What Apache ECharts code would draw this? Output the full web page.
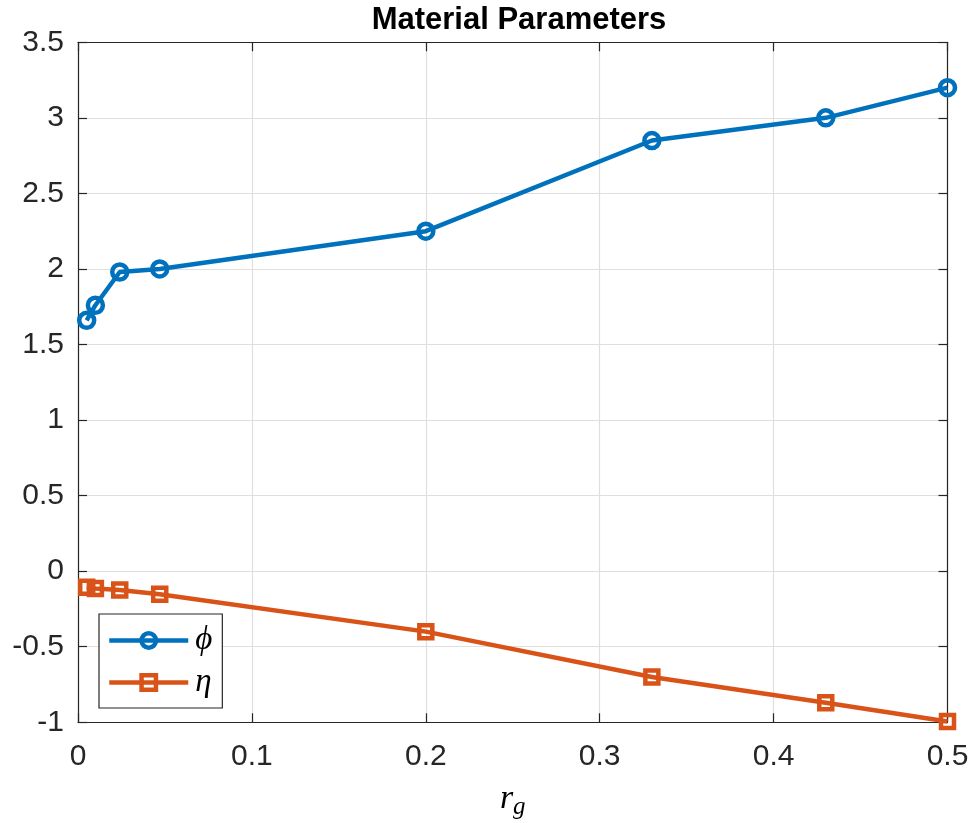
<!DOCTYPE html>
<html>
<head>
<meta charset="utf-8">
<title>Material Parameters</title>
<script src="https://cdn.jsdelivr.net/npm/echarts@6/dist/echarts.min.js"></script>
<style>
  html, body { margin: 0; padding: 0; background: #fff; }
  #chart { width: 976px; height: 823px; }
</style>
</head>
<body>
<div id="chart"></div>
<script>
// Grain-size ratio r_g and the fitted material parameters
const rg = [0.005, 0.01, 0.024, 0.047, 0.2, 0.33, 0.43, 0.5];
const phiValues = [1.66, 1.76, 1.98, 2.0, 2.25, 2.85, 3.0, 3.2];
const etaValues = [-0.107, -0.115, -0.124, -0.152, -0.4, -0.7, -0.87, -0.995];

const xTicks = { min: 0, max: 0.5, interval: 0.1 };
const yTicks = { min: -1, max: 3.5, interval: 0.5 };

const axisColor = '#262626';
const gridColor = '#dfdfdf';
const sansFont = '"Liberation Sans", Arial, Helvetica, sans-serif';
const mathFont = '"Liberation Serif", "DejaVu Serif", serif';

function pairs(xs, ys) {
  return xs.map((x, i) => [x, ys[i]]);
}

const chart = echarts.init(document.getElementById('chart'), null, { renderer: 'canvas' });

// Unlabelled top/right axes close the box around the plot
const frameAxis = {
  type: 'value',
  axisLine: { show: true, onZero: false, lineStyle: { color: axisColor, width: 1.2 } },
  axisTick: { show: true, inside: true, length: 9, lineStyle: { color: axisColor, width: 1.2 } },
  axisLabel: { show: false },
  splitLine: { show: false }
};

chart.setOption({
  animation: false,
  backgroundColor: '#ffffff',
  title: {
    text: 'Material Parameters',
    left: 514,
    textAlign: 'center',
    top: 0,
    textStyle: { fontFamily: sansFont, fontWeight: 'bold', fontSize: 31, color: '#000' }
  },
  grid: { left: 78, right: 28.5, top: 42.3, bottom: 100.7, containLabel: false, outerBoundsMode: 'none' },
  legend: {
    orient: 'vertical',
    left: 99,
    top: 614,
    padding: [10, 10, 9, 8],
    itemWidth: 79,
    itemHeight: 18,
    itemGap: 9,
    backgroundColor: '#ffffff',
    borderColor: axisColor,
    borderWidth: 1.2,
    borderRadius: 0,
    lineStyle: { width: 4.5 },
    itemStyle: { borderWidth: 4.5 },
    textStyle: { fontFamily: mathFont, fontStyle: 'italic', fontSize: 33, lineHeight: 30, color: '#000', padding: [0, 0, 0, 2] },
    data: ['ϕ', 'η']
  },
  xAxis: [
    {
      type: 'value',
      min: xTicks.min, max: xTicks.max, interval: xTicks.interval,
      axisLine: { show: true, onZero: false, lineStyle: { color: axisColor, width: 1.2 } },
      axisTick: { show: true, inside: true, length: 9, lineStyle: { color: axisColor, width: 1.2 } },
      axisLabel: { fontFamily: sansFont, fontSize: 30, color: axisColor, margin: 19 },
      splitLine: { show: true, lineStyle: { color: gridColor, width: 1.2 } },
      name: '{r|r}{g|g}',
      nameLocation: 'middle',
      nameGap: 60,
      nameTextStyle: {
        rich: {
          r: { fontFamily: mathFont, fontStyle: 'italic', fontSize: 34, lineHeight: 34, verticalAlign: 'top', color: '#000' },
          g: { fontFamily: mathFont, fontStyle: 'italic', fontSize: 25, lineHeight: 38, verticalAlign: 'bottom', color: '#000' }
        }
      }
    },
    Object.assign({}, frameAxis, {
      position: 'top', min: xTicks.min, max: xTicks.max, interval: xTicks.interval
    })
  ],
  yAxis: [
    {
      type: 'value',
      min: yTicks.min, max: yTicks.max, interval: yTicks.interval,
      axisLine: { show: true, onZero: false, lineStyle: { color: axisColor, width: 1.2 } },
      axisTick: { show: true, inside: true, length: 9, lineStyle: { color: axisColor, width: 1.2 } },
      axisLabel: { fontFamily: sansFont, fontSize: 30, color: axisColor, margin: 14 },
      splitLine: { show: true, lineStyle: { color: gridColor, width: 1.2 } }
    },
    Object.assign({}, frameAxis, {
      position: 'right', min: yTicks.min, max: yTicks.max, interval: yTicks.interval
    })
  ],
  series: [
    {
      name: 'ϕ',
      type: 'line',
      data: pairs(rg, phiValues),
      symbol: 'circle',
      symbolSize: 15,
      showAllSymbol: true,
      lineStyle: { color: '#0072BD', width: 4.5 },
      itemStyle: { color: 'rgba(0,0,0,0)', borderColor: '#0072BD', borderWidth: 4.5 },
      z: 3
    },
    {
      name: 'η',
      type: 'line',
      data: pairs(rg, etaValues),
      symbol: 'rect',
      symbolSize: 13,
      showAllSymbol: true,
      lineStyle: { color: '#D95319', width: 4.5 },
      itemStyle: { color: 'rgba(0,0,0,0)', borderColor: '#D95319', borderWidth: 4.5 },
      z: 3
    }
  ]
});
</script>
</body>
</html>
